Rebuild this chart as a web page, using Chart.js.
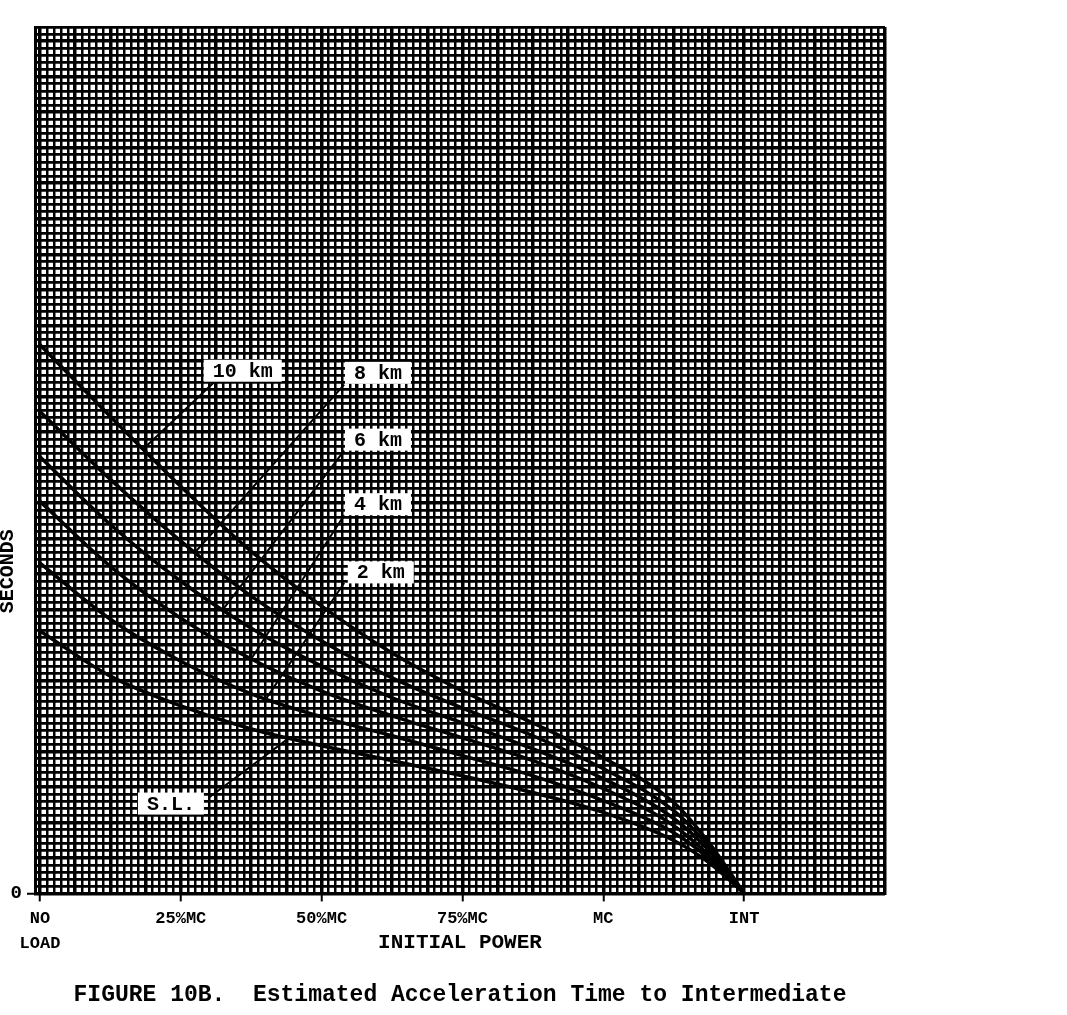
<!DOCTYPE html>
<html>
<head>
<meta charset="utf-8">
<title>Figure 10B</title>
<script src="https://cdn.jsdelivr.net/npm/chart.js@4.4.1/dist/chart.umd.min.js"></script>
<style>
  html, body { margin: 0; padding: 0; background: #fff; }
</style>
</head>
<body>
<canvas id="accelChart" width="1067" height="1015"></canvas>
<script>
// initial power: 0 = no load, 1 = 25%MC ... 4 = MC, 5 = INT
const powerX = [0, 0.5, 1, 1.5, 2, 2.5, 3, 3.5, 4, 4.5, 4.75, 5];
// seconds in major grid divisions
const seaLevel = [7.39, 6.12, 5.28, 4.63, 4.16, 3.74, 3.31, 2.84, 2.28, 1.49, 0.87, 0];
const alt2km = [9.30, 7.72, 6.54, 5.62, 4.97, 4.44, 3.88, 3.31, 2.61, 1.71, 0.98, 0];
const alt4km = [11.04, 9.21, 7.75, 6.60, 5.70, 5.00, 4.38, 3.74, 2.95, 1.91, 1.07, 0];
const alt6km = [12.30, 10.39, 8.79, 7.47, 6.40, 5.51, 4.80, 4.07, 3.23, 2.11, 1.21, 0];
const alt8km = [13.57, 11.66, 9.92, 8.37, 7.11, 6.07, 5.22, 4.44, 3.51, 2.33, 1.32, 0];
const alt10km = [15.45, 13.43, 11.46, 9.63, 8.09, 6.77, 5.70, 4.80, 3.82, 2.56, 1.43, 0];

const powerLabels = [['NO', 'LOAD'], '25%MC', '50%MC', '75%MC', 'MC', 'INT'];
const curveNames = ['S.L.', '2 km', '4 km', '6 km', '8 km', '10 km'];
// where each name sits and where its leader line runs to (data units)
const nameX = [0.93, 2.42, 2.40, 2.40, 2.40, 1.44];
const nameY = [2.53, 9.04, 10.96, 12.78, 14.66, 14.72];
const leaderStartX = [1.2, 2.16, 2.16, 2.16, 2.16, 1.24];
const leaderStartY = [2.7, 8.74, 10.65, 12.47, 14.33, 14.41];
const leaderEndX = [1.77, 1.6, 1.5, 1.3, 1.1, 0.73];
const leaderEndY = [4.38, 5.45, 6.6, 8.0, 9.6, 12.5];

const mono = 'Liberation Mono';

function onStep(v, step) {
    return Math.abs(v / step - Math.round(v / step)) < 1e-6;
}
function isPowerTick(v) {
    const r = Math.round(v);
    return Math.abs(v - r) < 1e-6 && r >= 0 && r <= 5;
}

const curves = [seaLevel, alt2km, alt4km, alt6km, alt8km, alt10km];
const datasets = curves.map((vals, i) => ({
    label: curveNames[i],
    data: powerX.map((x, j) => ({ x, y: vals[j] })),
    borderColor: '#000',
    borderWidth: 3.5,
    pointRadius: 0,
    cubicInterpolationMode: 'monotone'
}));
curveNames.forEach((name, i) => {
    datasets.push({
        label: name + ' leader',
        data: [
            { x: leaderStartX[i], y: leaderStartY[i] },
            { x: leaderEndX[i], y: leaderEndY[i] }
        ],
        borderColor: '#000',
        borderWidth: 2,
        pointRadius: 0
    });
});

// white boxes with the altitude names
const curveNamePlugin = {
    id: 'curveNames',
    afterDatasetsDraw(chart) {
        const { ctx, scales: { x, y } } = chart;
        ctx.save();
        ctx.font = 'bold 20px "' + mono + '"';
        ctx.textAlign = 'center';
        ctx.textBaseline = 'middle';
        curveNames.forEach((name, i) => {
            const px = x.getPixelForValue(nameX[i]);
            const py = y.getPixelForValue(nameY[i]);
            const w = ctx.measureText(name).width + 18;
            ctx.fillStyle = '#fff';
            ctx.fillRect(px - w / 2, py - 11, w, 22);
            ctx.fillStyle = '#000';
            ctx.fillText(name, px, py + 1);
        });
        ctx.restore();
    }
};

// "SECONDS" sits low on the left side, not centred
const secondsPlugin = {
    id: 'secondsTitle',
    afterDraw(chart) {
        const { ctx, chartArea, scales: { y } } = chart;
        ctx.save();
        ctx.translate(chartArea.left - 27, y.getPixelForValue(9.07));
        ctx.rotate(-Math.PI / 2);
        ctx.font = 'bold 20px "' + mono + '"';
        ctx.fillStyle = '#000';
        ctx.textAlign = 'center';
        ctx.textBaseline = 'middle';
        ctx.fillText('SECONDS', 0, 0);
        ctx.restore();
    }
};

new Chart(document.getElementById('accelChart'), {
    type: 'line',
    data: { datasets },
    plugins: [curveNamePlugin, secondsPlugin],
    options: {
        responsive: false,
        animation: false,
        layout: { padding: { top: 27, right: 182, left: 0, bottom: 0 } },
        plugins: {
            legend: { display: false },
            tooltip: { enabled: false },
            title: {
                display: true,
                position: 'bottom',
                fullSize: false,
                text: 'FIGURE 10B.  Estimated Acceleration Time to Intermediate',
                color: '#000',
                font: { family: mono, size: 23, weight: 'bold' },
                padding: { top: 26, bottom: 6 }
            }
        },
        scales: {
            x: {
                type: 'linear',
                min: -0.035,
                max: 6,
                border: { color: '#000', width: 3 },
                grid: {
                    color: '#000',
                    lineWidth: c => onStep(c.tick.value, 0.25) ? 3.5 : 2.5,
                    tickLength: 8,
                    tickWidth: 2,
                    tickColor: c => isPowerTick(c.tick.value) ? '#000' : 'rgba(0,0,0,0)'
                },
                ticks: {
                    stepSize: 0.05,
                    includeBounds: false,
                    autoSkip: false,
                    maxRotation: 0,
                    padding: 5,
                    color: '#000',
                    font: { family: mono, size: 17, weight: 'bold', lineHeight: 1.45 },
                    callback: v => isPowerTick(v) ? powerLabels[Math.round(v)] : ''
                },
                title: {
                    display: true,
                    text: 'INITIAL POWER',
                    color: '#000',
                    font: { family: mono, size: 21, weight: 'bold' },
                    padding: { top: 0, bottom: 0 }
                },
                afterFit: s => { s.height = 62; }
            },
            y: {
                min: 0,
                max: 24.4,
                border: { color: '#000', width: 3 },
                grid: {
                    color: '#000',
                    lineWidth: c => onStep(c.tick.value, 1) ? 3.5 : 2.7,
                    tickLength: 8,
                    tickWidth: 2,
                    tickColor: c => c.tick.value === 0 ? '#000' : 'rgba(0,0,0,0)'
                },
                ticks: {
                    stepSize: 0.2,
                    autoSkip: false,
                    padding: 5,
                    color: '#000',
                    font: { family: mono, size: 19, weight: 'bold' },
                    callback: v => v === 0 ? '0' : ''
                },
                afterFit: s => { s.width = 35; }
            }
        }
    }
});
</script>
</body>
</html>
